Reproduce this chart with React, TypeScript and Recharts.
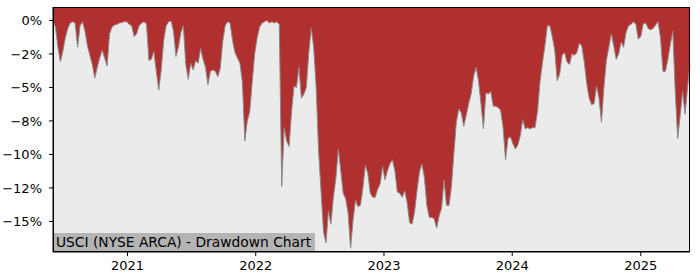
import { AreaChart, Area, XAxis, YAxis, CartesianGrid } from "recharts";

// weekly drawdown (%) from the running peak, first sample on 2020-06-03
const startDate = "2020-06-03";

const dd2020 = [
  0, -0.5, -2.0, -3.1, -2.3, -1.3, -0.6, -0.2, -0.1, -0.2, -2.0, -0.4, -0.1, -0.8, -1.9, -2.6,
  -3.3, -4.3, -3.5, -2.8, -2.2, -2.8, -3.4, -1.0, -0.5, -0.35, -0.3, -0.2, -0.15, -0.1, -0.1,
];
const dd2021 = [
  -0.3, -0.4, -1.2, -1.0, -0.4, -0.2, -0.1, -0.25, -3.0, -2.9, -2.3, -3.8, -5.2, -3.7, -1.5, -0.4,
  -0.1, -0.05, -0.8, -2.7, -2.0, -0.9, -0.4, -3.3, -4.4, -3.2, -3.7, -3.0, -3.2, -2.1, -2.9, -3.5,
  -4.8, -3.8, -3.7, -3.8, -4.2, -3.6, -1.6, -0.4, -0.1, -0.2, -1.5, -2.4, -2.8, -3.2, -4.6, -9.0,
  -7.5, -6.8, -4.6, -2.5,
];
const dd2022 = [
  -1.3, -0.5, -0.2, -0.1, 0, -0.2, -0.1, -0.2, -0.1, -0.3, -12.4, -8.0, -9.0, -9.4, -6.8, -4.9,
  -5.0, -3.5, -5.8, -5.5, -5.0, -2.4, -0.6, -2.0, -5.0, -9.8, -12.8, -15.8, -16.6, -14.2, -15.2, -13.2,
  -11.8, -9.6, -11.2, -12.9, -13.3, -14.4, -17.0, -14.9, -13.4, -13.9, -13.8, -12.5, -10.8, -11.4, -12.9, -13.2,
  -13.2, -12.6, -12.2, -10.9,
];
const dd2023 = [
  -11.9, -11.2, -10.7, -10.4, -11.2, -12.8, -12.9, -13.2, -12.7, -13.6, -15.1, -15.2, -14.3, -12.7, -11.3, -10.7,
  -11.7, -13.8, -14.7, -14.7, -14.8, -15.5, -14.6, -14.0, -11.9, -13.8, -13.8, -12.4, -9.9, -7.6, -6.6, -6.9,
  -7.9, -7.1, -6.2, -5.5, -4.2, -3.5, -4.5, -6.2, -8.1, -5.4, -5.5, -5.3, -6.4, -6.4, -6.5, -6.7,
  -8.0, -10.4, -8.8, -8.7,
];
const dd2024 = [
  -9.2, -9.6, -9.3, -8.6, -7.4, -8.1, -8.0, -8.1, -8.0, -8.0, -6.8, -4.6, -3.2, -1.9, -0.4, -0.4,
  -1.2, -2.2, -4.5, -4.0, -2.6, -2.4, -3.1, -3.3, -2.5, -2.6, -2.4, -1.7, -1.9, -3.1, -4.7, -5.8,
  -6.3, -6.2, -4.9, -5.8, -7.6, -5.0, -3.0, -2.0, -1.0, -1.9, -2.9, -2.5, -1.6, -2.0, -0.9, -0.4,
  -0.3, -0.1, -0.3, -1.4,
];
const dd2025 = [
  -1.2, -0.25, -0.2, -0.6, -0.7, -0.6, -0.35, -0.1, -1.3, -3.8, -3.8, -2.9, -1.8, -0.8, -5.3, -8.8,
  -7.1, -5.3, -7.0, -5.0, -3.3,
];

const xTickYears = [2021, 2022, 2023, 2024, 2025];
const yTickValues = [0, -2.5, -5, -7.5, -10, -12.5, -15];
const yTickLabels = ["0%", "\u22122%", "\u22125%", "\u22128%", "\u221210%", "\u221212%", "\u221215%"];
const title = "USCI (NYSE ARCA) - Drawdown Chart";

const DAY = 86400000;
const t0 = Date.parse(startDate + "T00:00:00Z");
const data = [...dd2020, ...dd2021, ...dd2022, ...dd2023, ...dd2024, ...dd2025].map((dd, i) => ({
  t: t0 + i * 7 * DAY,
  dd,
}));
const xTicks = xTickYears.map((y) => Date.UTC(y, 0, 1));

const font = "'DejaVu Sans', sans-serif";

export default function App() {
  return (
    <div style={{ position: "absolute", left: 0, top: 0, width: 700, height: 280, background: "#fff", fontFamily: font }}>
      <AreaChart width={700} height={280} data={data} margin={{ top: 7, right: 10, left: 0, bottom: 0 }}>
        <CartesianGrid horizontal={false} vertical={false} fill="#ebebeb" />
        <XAxis
          dataKey="t"
          type="number"
          scale="time"
          domain={["dataMin", "dataMax"]}
          ticks={xTicks}
          tickFormatter={(v: number) => String(new Date(v).getUTCFullYear())}
          height={28}
          tickSize={4}
          tickMargin={5}
          tick={{ fill: "#000", fontSize: 13, fontFamily: font }}
          tickLine={{ stroke: "#000" }}
          axisLine={{ stroke: "#000" }}
        />
        <YAxis
          type="number"
          domain={[-17.28, 1.0]}
          allowDataOverflow
          ticks={yTickValues}
          tickFormatter={(v: number) => yTickLabels[yTickValues.indexOf(v)] ?? ""}
          width={53}
          tickSize={4}
          tickMargin={7}
          tick={{ fill: "#000", fontSize: 13, fontFamily: font }}
          tickLine={{ stroke: "#000" }}
          axisLine={{ stroke: "#000" }}
        />
        <Area
          type="linear"
          dataKey="dd"
          baseValue="dataMax"
          fill="#b03030"
          fillOpacity={1}
          stroke="#8a8a8a"
          strokeWidth={1}
          isAnimationActive={false}
        />
      </AreaChart>
      <div
        style={{
          position: "absolute",
          left: 53,
          top: 233,
          width: 262,
          height: 19,
          background: "#b4b4b4",
          fontSize: 13.8,
          lineHeight: "19px",
          paddingLeft: 3,
          boxSizing: "border-box",
          color: "#000",
          whiteSpace: "nowrap",
        }}
      >
        {title}
      </div>
      <div
        style={{
          position: "absolute",
          left: 53,
          top: 7,
          width: 637,
          height: 245,
          border: "1px solid #000",
          boxSizing: "border-box",
          pointerEvents: "none",
        }}
      />
    </div>
  );
}
